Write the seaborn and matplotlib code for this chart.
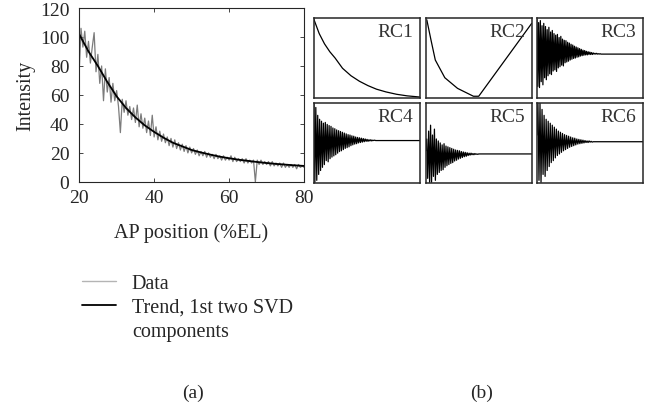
import numpy as np
import seaborn as sns
import matplotlib
matplotlib.use("Agg")
import matplotlib.pyplot as plt
from matplotlib.lines import Line2D

# ---- data ----
# (a) raw intensity, sampled every 0.5 %EL from 20 to 80
intensity = [75, 106, 93, 104, 86, 97, 82, 93, 103, 76,
             88, 68, 80, 56, 78, 62, 72, 55, 68, 56,
             63, 52, 34, 57, 48, 56, 46, 52, 43, 51,
             41, 53, 38, 47, 37, 44, 34, 42, 32, 46,
             31, 38, 29, 35, 28, 33, 27, 31, 25, 30,
             24, 29, 23, 27, 22, 26, 21, 25, 20, 24,
             20, 23, 19, 22, 18, 21, 18, 21, 17, 20,
             17, 19, 16, 19, 16, 18, 15, 18, 15, 17,
             15, 18, 14, 17, 14, 16, 14, 16, 13, 16,
             13, 15, 13, 15, 0, 15, 12, 15, 12, 14,
             12, 14, 11, 14, 11, 13, 11, 13, 10, 13,
             10, 12, 10, 12, 10, 12, 9, 12, 10, 11, 10]
ap_pos = np.linspace(20, 80, len(intensity))

# trend from first two SVD components
trend_x = [20, 22.5, 25, 27.5, 30, 32.5, 35, 37.5, 40, 42.5, 45, 47.5, 50,
           52.5, 55, 57.5, 60, 62.5, 65, 67.5, 70, 72.5, 75, 77.5, 80]
trend_y = [102, 90, 80, 69, 59, 51, 44.5, 39, 34.5, 30.5, 27, 24.5, 22,
           20.3, 18.8, 17.4, 16.3, 15.3, 14.5, 13.7, 13, 12.4, 11.9, 11.4, 11]

# (b) reconstructed components (arbitrary units, panel range -1..1)
rc1_x = [0, 0.05, 0.1, 0.15, 0.2, 0.27, 0.35, 0.43, 0.51, 0.59, 0.68, 0.78, 0.88, 1.0]
rc1_y = [0.98, 0.62, 0.36, 0.16, 0.0, -0.26, -0.45, -0.59, -0.7, -0.79, -0.86, -0.92, -0.96, -0.99]
rc2_x = [0.01, 0.05, 0.09, 0.18, 0.3, 0.45, 0.5, 0.6, 0.7, 0.8, 0.9, 1.0]
rc2_y = [0.97, 0.45, -0.05, -0.5, -0.77, -0.97, -0.97, -0.6, -0.23, 0.14, 0.51, 0.88]

rc3 = [0.98, -0.72, 0.9, -0.75, 0.95, -0.6, 0.82, -0.68, 0.88, -0.5,
       0.8, -0.55, 0.72, -0.45, 0.78, -0.4, 0.66, -0.42, 0.7, -0.33,
       0.62, -0.3, 0.58, -0.34, 0.6, -0.25, 0.52, -0.22, 0.55, -0.18,
       0.48, -0.2, 0.45, -0.12, 0.44, -0.1, 0.4, -0.08, 0.38, -0.05,
       0.35, -0.03, 0.33, -0.01, 0.3, 0.0, 0.28, 0.02, 0.26, 0.03,
       0.24, 0.05, 0.22, 0.06, 0.2, 0.07, 0.19, 0.08, 0.17, 0.08,
       0.16, 0.09, 0.15, 0.09, 0.14, 0.09, 0.13, 0.1, 0.12, 0.1,
       0.12, 0.1, 0.11, 0.1, 0.11, 0.1, 0.1, 0.1]
rc4 = [1.0, -1.0, 0.9, -0.95, 0.7, -0.8, 0.6, -0.7, 0.55, -0.62,
       0.5, -0.55, 0.52, -0.45, 0.47, -0.48, 0.44, -0.4, 0.42, -0.36,
       0.38, -0.33, 0.36, -0.3, 0.33, -0.26, 0.31, -0.22, 0.29, -0.2,
       0.27, -0.17, 0.25, -0.14, 0.23, -0.12, 0.21, -0.1, 0.2, -0.07,
       0.18, -0.05, 0.17, -0.03, 0.15, -0.02, 0.14, 0.0, 0.13, 0.01,
       0.12, 0.02, 0.11, 0.03, 0.1, 0.04, 0.09, 0.04, 0.08, 0.05,
       0.08, 0.05, 0.07, 0.06, 0.07, 0.06, 0.06, 0.06]
rc5 = [-0.2, 0.1, -0.9, 0.3, -1.0, 0.45, -1.0, 0.2, -0.85, 0.35,
       -0.95, 0.1, -0.8, 0.05, -0.75, 0.0, -0.7, -0.05, -0.68, -0.02,
       -0.62, -0.08, -0.58, -0.1, -0.55, -0.12, -0.52, -0.14, -0.5, -0.16,
       -0.46, -0.18, -0.44, -0.19, -0.41, -0.2, -0.39, -0.22, -0.37, -0.23,
       -0.35, -0.24, -0.34, -0.25, -0.32, -0.26, -0.31, -0.26, -0.3, -0.27,
       -0.3, -0.27, -0.29, -0.28, -0.29, -0.28]
rc6 = [0.2, 1.0, -0.95, 1.0, -1.0, 0.85, -0.8, 0.7, -0.85, 0.6,
       -0.7, 0.55, -0.6, 0.5, -0.5, 0.45, -0.45, 0.4, -0.38, 0.35,
       -0.32, 0.3, -0.28, 0.27, -0.24, 0.24, -0.2, 0.21, -0.17, 0.19,
       -0.14, 0.17, -0.11, 0.15, -0.09, 0.13, -0.07, 0.12, -0.05, 0.1,
       -0.03, 0.09, -0.02, 0.08, -0.01, 0.07, 0.0, 0.06, 0.01, 0.05,
       0.01, 0.05, 0.02, 0.04, 0.02, 0.03, 0.03, 0.03]
# fraction of panel width over which the oscillation is spread
osc_span = [0.62, 0.6, 0.5, 0.55]
rc_names = ["RC1", "RC2", "RC3", "RC4", "RC5", "RC6"]

sns.set_style("ticks")
plt.rcParams["font.family"] = ["Liberation Serif", "DejaVu Serif"]
plt.rcParams["axes.linewidth"] = 0.8

fig = plt.figure(figsize=(6.54, 4.10), dpi=100)

# ---- panel (a) ----
ax = fig.add_axes([0.121, 0.554, 0.344, 0.424])
sns.lineplot(x=ap_pos, y=intensity, ax=ax, color="#7c7c7c", linewidth=0.9,
             estimator=None)
sns.lineplot(x=trend_x, y=trend_y, ax=ax, color="black", linewidth=1.3,
             estimator=None)
ax.set_xlim(20, 80)
ax.set_ylim(0, 120)
ax.set_xticks([20, 40, 60, 80])
ax.set_yticks(range(0, 121, 20))
ax.tick_params(direction="in", top=True, right=True, labelsize=14,
               length=3, width=0.6)
ax.tick_params(axis="y", pad=7)
ax.tick_params(axis="x", pad=5)
ax.set_ylabel("Intensity", fontsize=14.5, labelpad=3)
ax.set_xlabel("")

handles = [Line2D([], [], color="#b4b4b4", linewidth=1.0),
           Line2D([], [], color="black", linewidth=1.3),
           Line2D([], [], linestyle="none")]
labels = ["Data", "Trend, 1st two SVD", "components"]
fig.legend(handles, labels, loc="upper left", bbox_to_anchor=(0.1254, 0.330),
           frameon=False, fontsize=14.5, handlelength=1.7, handletextpad=0.77,
           labelspacing=0.25, borderaxespad=0, borderpad=0)
fig.text(0.292, 0.432, "AP position (%EL)", ha="center", va="center", fontsize=14.5)

# ---- panel (b) ----
rc_data = [(rc1_x, rc1_y), (rc2_x, rc2_y)]
for v, span in zip((rc3, rc4, rc5, rc6), osc_span):
    xs = list(np.linspace(0, span, len(v))) + [1.0]
    rc_data.append((xs, v + [v[-1]]))

lefts = [0.480, 0.651, 0.821]
bottoms = [0.758, 0.551]
for i, (xs, ys) in enumerate(rc_data):
    r, c = divmod(i, 3)
    a = fig.add_axes([lefts[c], bottoms[r], 0.162, 0.196])
    sns.lineplot(x=xs, y=ys, ax=a, color="black", linewidth=0.9,
                 estimator=None, sort=False)
    a.set_xlim(0, 1)
    a.set_ylim(-1.02, 1.02)
    a.set_xticks([])
    a.set_yticks([])
    for s in a.spines.values():
        s.set_linewidth(1.1)
    a.text(0.94, 0.93, rc_names[i], transform=a.transAxes, ha="right", va="top",
           fontsize=14, color="#333333")

fig.text(0.295, 0.041, "(a)", ha="center", va="center", fontsize=14)
fig.text(0.737, 0.041, "(b)", ha="center", va="center", fontsize=14)

fig.savefig("out.png", dpi=100)
